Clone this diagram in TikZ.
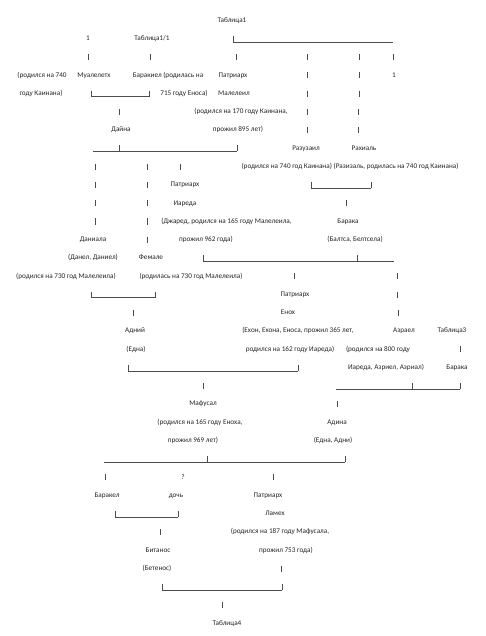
\documentclass[tikz,border=0pt]{standalone}
\usepackage{fontspec}
\setmainfont{Carlito}
\newcommand\RY[1]{(20+(#1-1)*18.27)}
\newcommand\tx[4]{\node[txt] (#1) at (#2,{\RY{#3}+2.3}) {#4};}
\newcommand\pp[2]{\draw[ln] (#1,{\RY{#2}-2.5}) -- (#1,{\RY{#2}+3.6});}
\newcommand\us[3]{\draw[ln] (#1,{\RY{#3}+3.6}) -- (#2,{\RY{#3}+3.6});}
\begin{document}
\begin{tikzpicture}[x=1pt,y=-1pt,
  txt/.style={anchor=base,inner sep=0pt,font=\fontsize{7.2}{8}\selectfont,text=black!85},
  ln/.style={line width=0.4pt,black!70}]
\useasboundingbox[fill=white] (0,0) rectangle (485,636);
% row 1
\tx{t1}{232}{1}{Таблица1}
% row 2
\tx{a1}{88}{2}{1}
\tx{a2}{152}{2}{Таблица1/1}
\pp{233}{2}\us{233}{393}{2}
% row 3
\pp{88}{3}\pp{150}{3}\pp{236}{3}\pp{307}{3}\pp{359}{3}\pp{393}{3}
% row 4
\tx{b1}{42}{4}{(родился на 740}
\tx{b2}{94}{4}{Муалелетх}
\tx{b3}{168}{4}{Баракиел (родилась на}
\tx{b4}{233}{4}{Патриарх}
\pp{307}{4}\pp{359}{4}
\tx{b5}{394}{4}{1}
% row 5
\tx{c1}{41}{5}{году Каинана)}
\pp{91}{5}\us{91}{149}{5}\pp{149}{5}
\tx{c2}{184}{5}{715 году Еноса)}
\tx{c3}{234}{5}{Малелеил}
\pp{307}{5}\pp{359}{5}
% row 6
\pp{119}{6}
\tx{d1}{241}{6}{(родился на 170 году Каинана,}
\pp{307}{6}\pp{358}{6}
% row 7
\tx{e1}{121}{7}{Дайна}
\tx{e2}{238}{7}{прожил 895 лет)}
\pp{307}{7}\pp{358}{7}
% row 8
\us{93}{119}{8}\pp{119}{8}\us{119}{237}{8}\pp{237}{8}
\tx{f1}{306}{8}{Разузаил}
\tx{f2}{364}{8}{Рахиаль}
% row 9
\pp{95}{9}\pp{147}{9}\pp{180}{9}
\tx{g1}{350}{9}{(родился на 740 год Каинана) (Разизаль, родилась на 740 год Каинана)}
% row 10
\pp{95}{10}\pp{147}{10}
\tx{h1}{185}{10}{Патриарх}
\pp{311}{10}\us{311}{371}{10}\pp{371}{10}
% row 11
\pp{95}{11}\pp{147}{11}
\tx{i1}{185}{11}{Иареда}
\pp{346}{11}
% row 12
\pp{95}{12}\pp{147}{12}
\tx{j1}{226.5}{12}{(Джаред, родился на 165 году Малелеила,}
\tx{j2}{348}{12}{Барака}
% row 13
\tx{k1}{93}{13}{Даниала}
\pp{147}{13}
\tx{k2}{206}{13}{прожил 962 года)}
\tx{k3}{355}{13}{(Балтса, Белтсела)}
% row 14
\tx{l1}{93}{14}{(Данел, Даниел)}
\tx{l2}{151}{14}{Фемале}
\pp{203}{14}\us{203}{357}{14}\pp{357}{14}\us{357}{394}{14}
% row 15
\tx{m1}{66}{15}{(родился на 730 год Малелеила)}
\tx{m2}{191}{15}{(родилась на 730 год Малелеила)}
\pp{294}{15}\pp{397}{15}
% row 16
\pp{91}{16}\us{91}{155}{16}\pp{155}{16}
\tx{n1}{295}{16}{Патриарх}
\pp{397}{16}
% row 17
\pp{133}{17}
\tx{o1}{288}{17}{Енох}
\pp{398}{17}
% row 18
\tx{p1}{135}{18}{Адний}
\tx{p2}{298}{18}{(Ехон, Ехона, Еноса, прожил 365 лет,}
\tx{p3}{404}{18}{Азраел}
\tx{p4}{452}{18}{Таблица3}
% row 19
\tx{q1}{136}{19}{(Една)}
\tx{q2}{290}{19}{родился на 162 году Иареда)}
\tx{q3}{378}{19}{(родился на 800 году}
\pp{460}{19}
% row 20
\pp{128}{20}\us{128}{298}{20}\pp{298}{20}
\tx{r1}{386}{20}{Иареда, Азриел, Азриал)}
\tx{r2}{457}{20}{Барака}
% row 21
\pp{203}{21}
\us{336}{412}{21}\pp{412}{21}\us{412}{460}{21}\pp{460}{21}
% row 22
\tx{s1}{203}{22}{Мафусал}
\pp{337}{22}
% row 23
\tx{u1}{200}{23}{(родился на 165 году Еноха,}
\tx{u2}{337}{23}{Адина}
% row 24
\tx{v1}{193}{24}{прожил 969 лет)}
\tx{v2}{333}{24}{(Една, Адни)}
% row 25
\us{104}{207}{25}\pp{207}{25}\us{207}{345}{25}\pp{345}{25}
% row 26
\pp{105}{26}
\tx{w1}{183}{26}{?}
\pp{273}{26}
% row 27
\tx{x1}{107}{27}{Баракел}
\tx{x2}{176}{27}{дочь}
\tx{x3}{268}{27}{Патриарх}
% row 28
\pp{115}{28}\us{115}{178}{28}\pp{178}{28}
\tx{y1}{275}{28}{Ламех}
% row 29
\pp{160}{29}
\tx{z1}{280}{29}{(родился на 187 году Мафусала,}
% row 30
\tx{z2}{158}{30}{Битанос}
\tx{z3}{286}{30}{прожил 753 года)}
% row 31
\tx{z4}{157}{31}{(Бетенос)}
\pp{281}{31}
% row 32
\pp{162}{32}\us{162}{282}{32}\pp{282}{32}
% row 33
\pp{222}{33}
% row 34
\tx{z5}{227}{34}{Таблица4}
\end{tikzpicture}
\end{document}
